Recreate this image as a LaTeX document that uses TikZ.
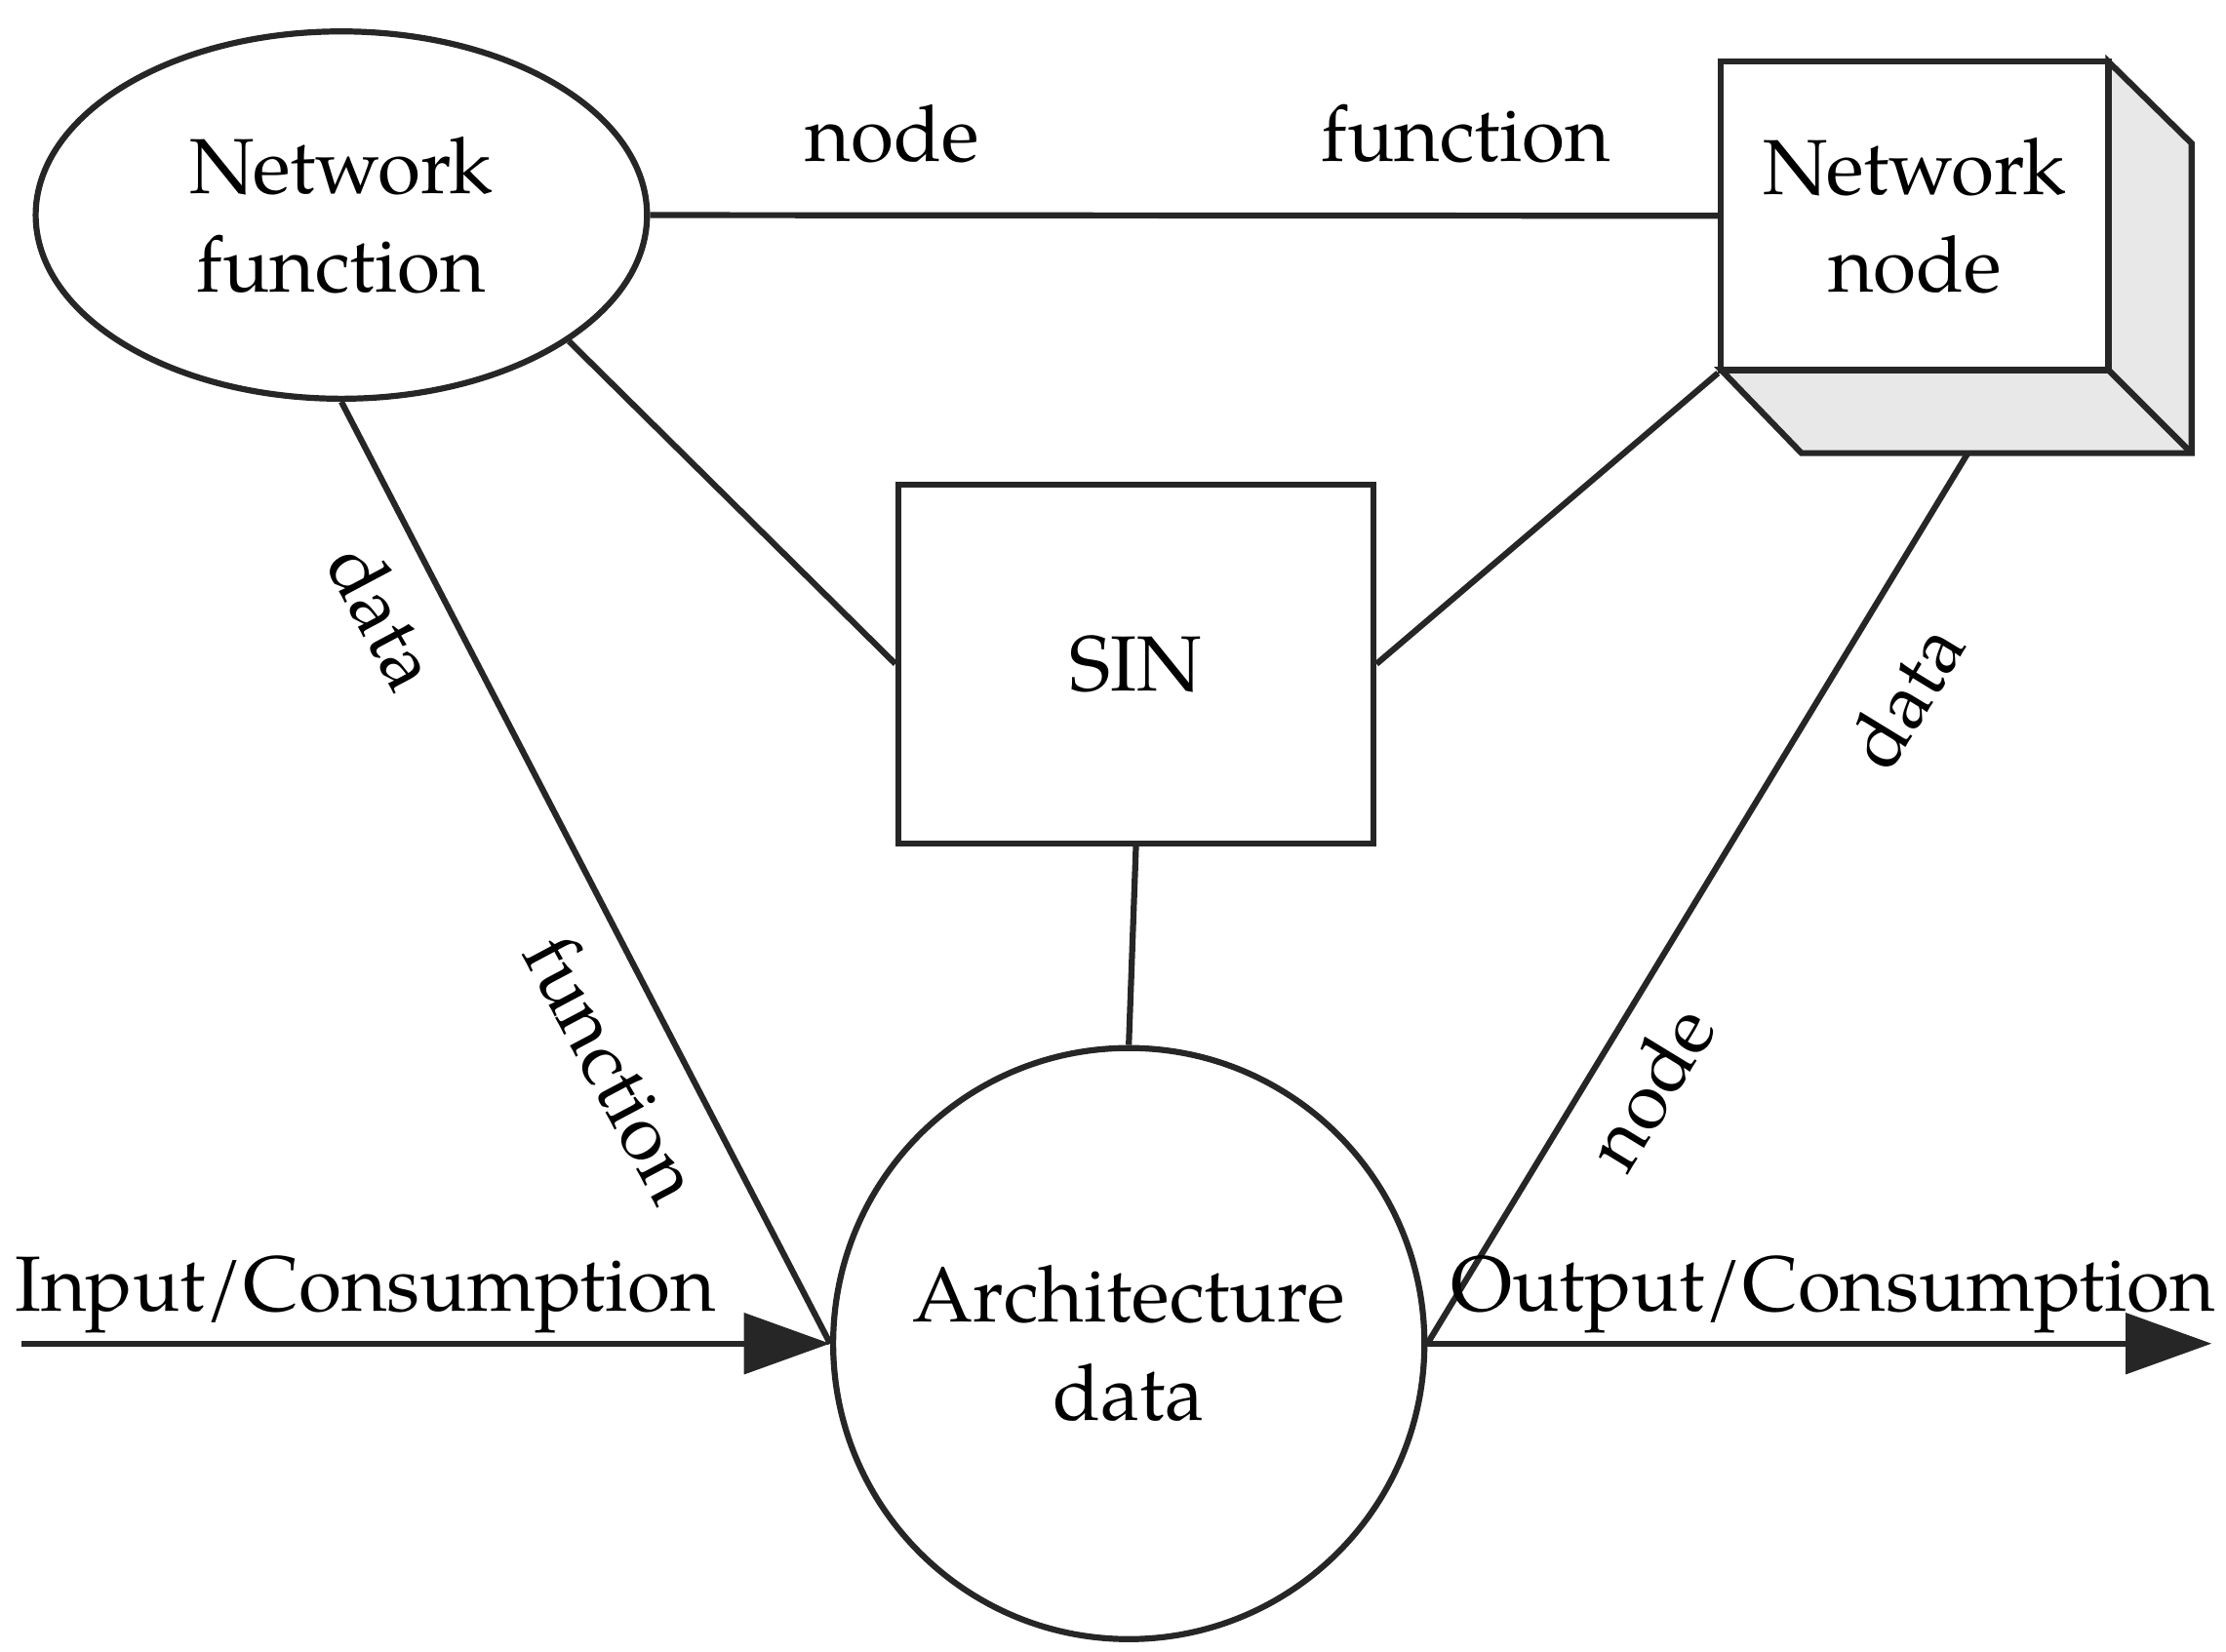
\documentclass[tikz,border=0pt]{standalone}
\usepackage{fontspec}
\setmainfont{TeX Gyre Pagella}
\usetikzlibrary{shapes.geometric,arrows.meta}
\begin{document}
\begin{tikzpicture}[x=0.01cm,y=-0.01cm,
  ln/.style={line width=1.2pt,draw=black!85},
  txt/.style={font=\fontsize{15.5}{19.5}\selectfont,align=center},
  lab/.style={font=\fontsize{15.5}{19}\selectfont}]
\useasboundingbox (0,0) rectangle (1552,1152);
\node[ellipse,ln,minimum width=4.26cm,minimum height=2.56cm,inner sep=0pt,txt] (nf) at (238,150) {Network\\function};
\node[rectangle,ln,minimum width=3.31cm,minimum height=2.5cm,txt] (sin) at (792,463) {SIN};
\node[circle,ln,minimum size=4.12cm,txt,inner sep=0pt] (ad) at (787,937) {Architecture\\data};
% Network node box
\draw[ln,fill=gray!18] (1470,43) -- (1528,100) -- (1528,316) -- (1256,316) -- (1200,258) -- (1470,258) -- cycle;
\draw[ln] (1470,258) -- (1528,316);
\node[rectangle,ln,fill=white,minimum width=2.7cm,minimum height=2.15cm,inner sep=0pt,txt] (nn) at (1335,150.5) {Network\\node};
\coordinate (nnb) at (1372,316);
\coordinate (in) at (15,937);
\coordinate (out) at (1542,937);
\draw[ln] (nf.east) -- (nn.west);
\draw[ln] (nf.-29) -- (sin.west);
\draw[ln] (nn.south west) -- (sin.east);
\draw[ln] (sin.south) -- (ad.north);
\draw[ln] (nf.south) -- (ad.west);
\draw[ln] (nnb) -- (ad.east);
\draw[ln,-{Triangle[length=0.6cm,width=0.42cm]}] (in) -- (ad.west);
\draw[ln,-{Triangle[length=0.6cm,width=0.42cm]}] (ad.east) -- (out);
\node[lab] (l1) at (622,93) {node};
\node[lab] (l2) at (1022,93) {function};
\node[lab,rotate=-62] (l3) at (268,430) {data};
\node[lab,rotate=-62] (l4) at (428,745) {function};
\node[lab,rotate=58.6] (l5) at (1328,485) {data};
\node[lab,rotate=58.6] (l6) at (1150,758) {node};
\node[lab] (l7) at (255,903) {Input/Consumption};
\node[lab] (l8) at (1278,903) {Output/Consumption};
\end{tikzpicture}
\end{document}
